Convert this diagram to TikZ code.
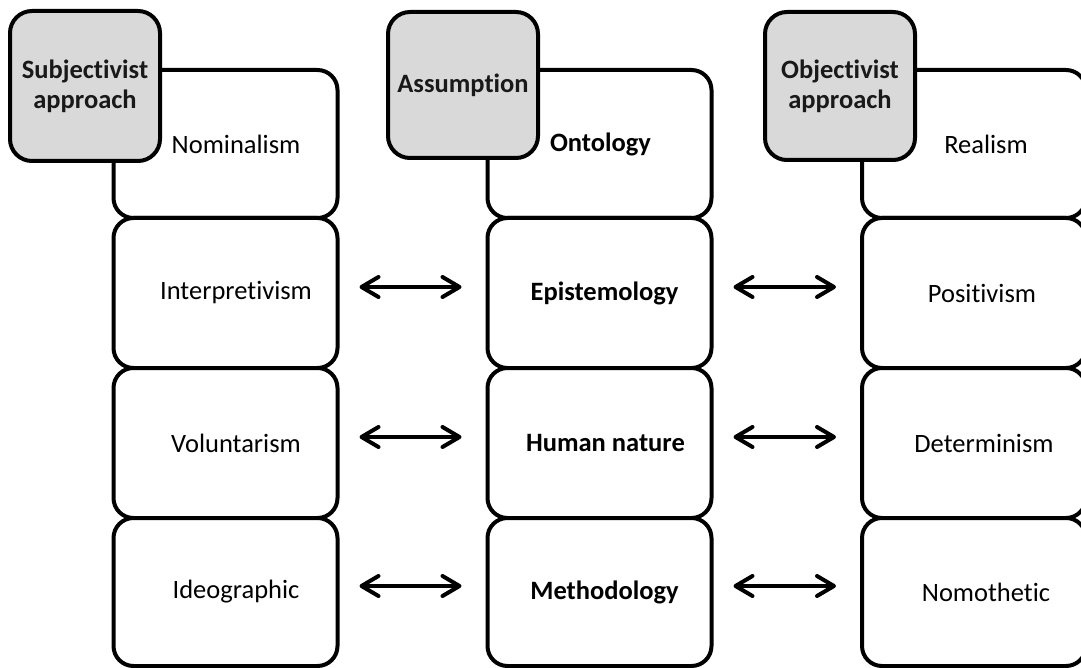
\documentclass[tikz,border=0pt]{standalone}
\usepackage{fontspec}
\setmainfont{Carlito}[Ligatures=NoCommon]
\usetikzlibrary{arrows.meta}
\definecolor{headgray}{HTML}{D9D9D9}
\tikzset{
  cell/.style={draw=black, line width=4pt, fill=white, rounded corners=20pt,
    minimum width=224pt, outer sep=0pt, inner sep=0pt},
  head/.style={draw=black, line width=4pt, fill=headgray, rounded corners=22pt,
    minimum width=150pt, minimum height=148pt, outer sep=0pt, inner sep=0pt,
    font=\fontsize{26.5}{30}\selectfont\bfseries, align=center, text=black!90},
  celltext/.style={font=\fontsize{26.5}{30}\selectfont, inner sep=0pt},
  celltextb/.style={celltext, font=\fontsize{26.5}{30}\selectfont\bfseries},
  link/.style={line width=4pt, {Straight Barb[round, length=17pt, width=20pt]}-{Straight Barb[round, length=17pt, width=20pt]},
    shorten <=22pt, shorten >=26pt}
}
\begin{document}
\begin{tikzpicture}[x=1pt, y=-1pt]
\useasboundingbox (0,0) rectangle (1081,668);
\clip (0,0) rectangle (1081,668);
% column boxes (rows share their edges)
\foreach \col/\cx in {L/225.5, M/599.5, R/974}{
  \node[cell, minimum height=148pt] (\col1) at (\cx,144) {};
  \node[cell, minimum height=150pt] (\col2) at (\cx,293) {};
  \node[cell, minimum height=150pt] (\col3) at (\cx,443) {};
  \node[cell, minimum height=148pt] (\col4) at (\cx,592) {};
}
% header tabs on top of the first row
\node[head, minimum height=150pt] (hL) at (85,86) {Subjectivist\\approach};
\node[head, minimum height=146pt] (hM) at (463,85) {Assumption};
\node[head, minimum height=148pt] (hR) at (840,86) {Objectivist\\approach};
% cell texts
\node[celltext] (tL1) at ([xshift=10.5pt]L1.center) {Nominalism};
\node[celltext] (tL2) at ([xshift=10.5pt]L2.center) {Interpretivism};
\node[celltext] (tL3) at ([xshift=10.5pt]L3.center) {Voluntarism};
\node[celltext] (tL4) at ([xshift=10.5pt]L4.center) {Ideographic};
\node[celltextb] (tM1) at ([xshift=1pt]M1.center) {Ontology};
\node[celltextb] (tM2) at ([xshift=5pt]M2.center) {Epistemology};
\node[celltextb] (tM3) at ([xshift=6pt]M3.center) {Human nature};
\node[celltextb] (tM4) at ([xshift=5pt]M4.center) {Methodology};
\node[celltext] (tR1) at ([xshift=12pt]R1.center) {Realism};
\node[celltext] (tR2) at ([xshift=8pt]R2.center) {Positivism};
\node[celltext] (tR3) at ([xshift=10pt]R3.center) {Determinism};
\node[celltext] (tR4) at ([xshift=12pt]R4.center) {Nomothetic};
% double-headed links between columns
\foreach \r in {2,3,4}{
  \draw[link] ([yshift=6pt]L\r.east) -- ([yshift=6pt]M\r.west);
  \draw[link] ([yshift=6pt]M\r.east) -- ([yshift=6pt]R\r.west);
}
\end{tikzpicture}
\end{document}
